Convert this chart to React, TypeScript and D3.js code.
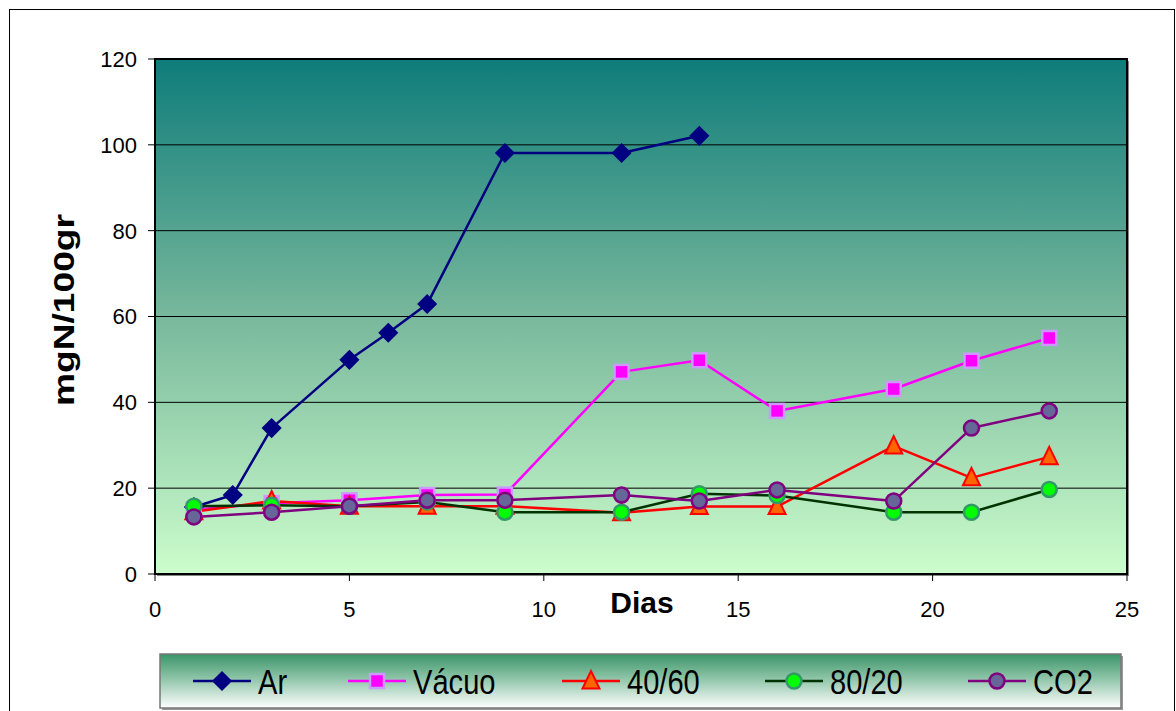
import React from "react";
import * as d3 from "d3";

const W = 1176;
const H = 711;

const arDays = [1, 2, 3, 5, 6, 7, 9, 12, 14];
const arValues = [15.6, 18.4, 34.0, 49.9, 56.2, 62.9, 98.1, 98.1, 102.1];

const otherDays = [1, 3, 5, 7, 9, 12, 14, 16, 19, 21, 23];
const vacuoValues = [15.0, 16.5, 17.2, 18.4, 18.5, 47.1, 49.8, 38.0, 43.1, 49.7, 55.0];
const mix4060Values = [14.5, 17.0, 15.8, 15.8, 15.8, 14.3, 15.7, 15.7, 29.8, 22.4, 27.3];
const mix8020Values = [15.8, 16.0, 15.8, 16.8, 14.4, 14.4, 18.7, 18.3, 14.4, 14.4, 19.7];
const co2Values = [13.3, 14.4, 15.8, 17.2, 17.2, 18.4, 17.0, 19.6, 17.0, 34.0, 38.0];

const xTicks = [0, 5, 10, 15, 20, 25];
const yTicks = [0, 20, 40, 60, 80, 100, 120];

type Marker = "diamond" | "square" | "triangle" | "circle";

interface Series {
  name: string;
  xs: number[];
  ys: number[];
  line: string;
  fill: string;
  stroke: string;
  marker: Marker;
}

const series: Series[] = [
  { name: "Ar", xs: arDays, ys: arValues, line: "#000080", fill: "#000080", stroke: "#000080", marker: "diamond" },
  { name: "Vácuo", xs: otherDays, ys: vacuoValues, line: "#ff00ff", fill: "#ff00ff", stroke: "#cc99ff", marker: "square" },
  { name: "40/60", xs: otherDays, ys: mix4060Values, line: "#ff0000", fill: "#ff6600", stroke: "#ff0000", marker: "triangle" },
  { name: "80/20", xs: otherDays, ys: mix8020Values, line: "#003300", fill: "#00ff00", stroke: "#339966", marker: "circle" },
  { name: "CO2", xs: otherDays, ys: co2Values, line: "#800080", fill: "#666699", stroke: "#800080", marker: "circle" },
];

const drawOrder = [0, 1, 2, 3, 4];

function MarkerShape({ m, x, y, fill, stroke }: { m: Marker; x: number; y: number; fill: string; stroke: string }) {
  if (m === "diamond") {
    const r = 9;
    return <path d={`M${x},${y - r}L${x + r},${y}L${x},${y + r}L${x - r},${y}Z`} fill={fill} stroke={stroke} strokeWidth={1.5} />;
  }
  if (m === "square") {
    const r = 7;
    return <rect x={x - r} y={y - r} width={2 * r} height={2 * r} fill={fill} stroke={stroke} strokeWidth={2.5} />;
  }
  if (m === "triangle") {
    const r = 8.5;
    return <path d={`M${x},${y - r - 1.5}L${x + r},${y + r - 1}L${x - r},${y + r - 1}Z`} fill={fill} stroke={stroke} strokeWidth={2} strokeLinejoin="miter" />;
  }
  return <circle cx={x} cy={y} r={7.5} fill={fill} stroke={stroke} strokeWidth={2.5} />;
}

export default function App() {
  const left = 155, right = 1127, top = 59, bottom = 574;
  const x = d3.scaleLinear().domain([0, 25]).range([left, right]);
  const y = d3.scaleLinear().domain([0, 120]).range([bottom, top]);
  const lineGen = d3.line<[number, number]>().x(d => x(d[0])).y(d => y(d[1]));

  const legendX = [193, 348, 562, 765, 968];
  const legendY = 681;
  const font = "'Liberation Sans', Arial, sans-serif";

  return (
    <svg width={W} height={H} style={{ position: "absolute", left: 0, top: 0, display: "block", background: "#fff" }}>
      <defs>
        <linearGradient id="plotGrad" x1="0" y1="0" x2="0" y2="1">
          <stop offset="0" stopColor="#0e7c7a" />
          <stop offset="0.5" stopColor="#78b89c" />
          <stop offset="1" stopColor="#ccfdcc" />
        </linearGradient>
        <linearGradient id="legGrad" x1="0" y1="0" x2="0" y2="1">
          <stop offset="0" stopColor="#3a9568" />
          <stop offset="0.45" stopColor="#8ec4a8" />
          <stop offset="1" stopColor="#ffffff" />
        </linearGradient>
      </defs>
      <rect x={9.5} y={9.5} width={1165} height={710} fill="#fff" stroke="#000" strokeWidth={1} />

      {/* plot area */}
      <rect x={left + 2} y={top + 2} width={right - left} height={bottom - top} fill="#888" />
      <rect x={left} y={top} width={right - left} height={bottom - top} fill="url(#plotGrad)" />

      {/* gridlines */}
      {yTicks.filter(t => t > 0 && t < 120).map(t => (
        <line key={t} x1={left} x2={right} y1={y(t)} y2={y(t)} stroke="#000" strokeWidth={1} />
      ))}
      <rect x={left} y={top} width={right - left} height={bottom - top} fill="none" stroke="#000" strokeWidth={2} />

      {/* y ticks */}
      {yTicks.map(t => (
        <g key={t}>
          <line x1={left - 7} x2={left} y1={y(t)} y2={y(t)} stroke="#000" strokeWidth={1} />
          <text x={137} y={y(t)} dy="0.36em" textAnchor="end" fontFamily={font} fontSize={22} fill="#000">{t}</text>
        </g>
      ))}
      {/* x ticks */}
      {xTicks.map(t => (
        <g key={t}>
          <line x1={x(t)} x2={x(t)} y1={bottom} y2={bottom + 7} stroke="#000" strokeWidth={1} />
          <text x={x(t)} y={617} textAnchor="middle" fontFamily={font} fontSize={22} fill="#000">{t}</text>
        </g>
      ))}

      {/* axis titles */}
      <text x={642} y={613} textAnchor="middle" fontFamily={font} fontSize={30} fontWeight="bold" fill="#000">Dias</text>
      <text transform={`translate(74,310) rotate(-90)`} textAnchor="middle" fontFamily={font} fontSize={30} fontWeight="bold" fill="#000" textLength={192} lengthAdjust="spacingAndGlyphs">mgN/100gr</text>

      {/* lines */}
      {drawOrder.map(i => {
        const s = series[i];
        const pts = s.xs.map((d, k) => [d, s.ys[k]] as [number, number]);
        return <path key={s.name} d={lineGen(pts) || ""} fill="none" stroke={s.line} strokeWidth={2.5} strokeLinejoin="round" />;
      })}
      {/* markers */}
      {drawOrder.map(i => {
        const s = series[i];
        return (
          <g key={s.name + "m"}>
            {s.xs.map((d, k) => (
              <MarkerShape key={k} m={s.marker} x={x(d)} y={y(s.ys[k])} fill={s.fill} stroke={s.stroke} />
            ))}
          </g>
        );
      })}

      {/* legend */}
      <rect x={162} y={656} width={961} height={54} fill="#999" />
      <rect x={160} y={654} width={961} height={54} fill="url(#legGrad)" stroke="#777" strokeWidth={1.5} />
      {series.map((s, i) => {
        const lx = legendX[i];
        return (
          <g key={s.name + "l"}>
            <line x1={lx} x2={lx + 58} y1={legendY} y2={legendY} stroke={s.line} strokeWidth={2.5} />
            <MarkerShape m={s.marker} x={lx + 29} y={legendY} fill={s.fill} stroke={s.stroke} />
            <text transform={`translate(${lx + 65},${legendY + 13}) scale(0.97,1.15)`} fontFamily={font} fontSize={30} fill="#000">{s.name}</text>
          </g>
        );
      })}
    </svg>
  );
}
